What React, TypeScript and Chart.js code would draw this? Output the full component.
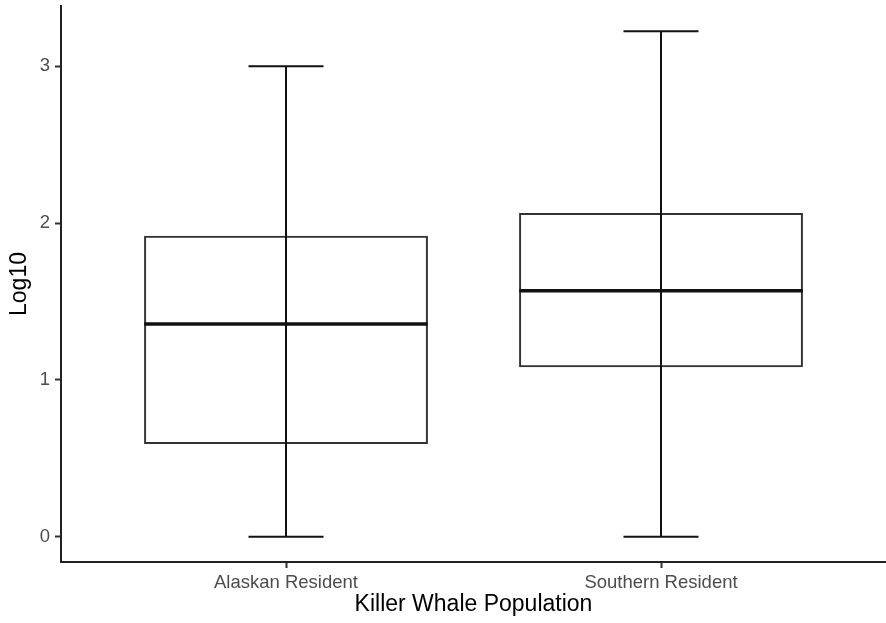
import React, { useEffect, useRef } from "react";
import { Chart, registerables } from "chart.js";

Chart.register(...registerables);

const categories = ["Alaskan Resident", "Southern Resident"];
const whiskerMin = [0, 0];
const q1 = [0.592, 1.081];
const median = [1.357, 1.569];
const q3 = [1.919, 2.064];
const whiskerMax = [3.0, 3.223];
const yTicks = [0, 1, 2, 3];
const xTitle = "Killer Whale Population";
const yTitle = "Log10";

const FONT = "'Liberation Sans', Arial, Helvetica, sans-serif";

const boxPlugin = {
  id: "boxWhiskers",
  afterDatasetsDraw(chart: any) {
    const ctx = chart.ctx;
    const xs = chart.scales.x;
    const ys = chart.scales.y;
    ctx.save();
    categories.forEach((_, i) => {
      const pos = i + 1;
      const cx = xs.getPixelForValue(pos);
      const capL = xs.getPixelForValue(pos - 0.1);
      const capR = xs.getPixelForValue(pos + 0.1);
      const boxL = xs.getPixelForValue(pos - 0.378);
      const boxR = xs.getPixelForValue(pos + 0.378);
      const yMin = ys.getPixelForValue(whiskerMin[i]);
      const yMax = ys.getPixelForValue(whiskerMax[i]);
      const yMed = ys.getPixelForValue(median[i]);
      ctx.strokeStyle = "#111";
      ctx.lineWidth = 2;
      ctx.beginPath();
      ctx.moveTo(cx, yMin);
      ctx.lineTo(cx, yMax);
      ctx.moveTo(capL, yMin);
      ctx.lineTo(capR, yMin);
      ctx.moveTo(capL, yMax);
      ctx.lineTo(capR, yMax);
      ctx.stroke();
      ctx.lineWidth = 3.5;
      ctx.strokeStyle = "#111";
      ctx.beginPath();
      ctx.moveTo(boxL, yMed);
      ctx.lineTo(boxR, yMed);
      ctx.stroke();
    });
    ctx.restore();
  },
};

export default function App() {
  const ref = useRef<HTMLCanvasElement>(null);
  useEffect(() => {
    document.body.style.margin = "0";
    const canvas = ref.current!;
    const chart = new Chart(canvas, {
      type: "bar",
      data: {
        datasets: [
          {
            data: categories.map((_, i) => ({ x: i + 1, y: [q1[i], q3[i]] })) as any,
            backgroundColor: "rgba(0,0,0,0)",
            borderColor: "#333",
            borderWidth: 2,
            borderSkipped: false,
            barPercentage: 0.757,
            categoryPercentage: 1,
          },
        ],
      },
      options: {
        animation: false,
        responsive: false,
        maintainAspectRatio: false,
        layout: { padding: { top: 6, right: 0, left: 0, bottom: 0 } },
        plugins: {
          legend: { display: false },
          tooltip: { enabled: false },
        },
        scales: {
          x: {
            type: "linear",
            min: 0.4,
            max: 2.6,
            offset: false,
            afterBuildTicks: (s: any) => {
              s.ticks = categories.map((_, i) => ({ value: i + 1 }));
            },
            afterFit: (s: any) => {
              s.height = 61;
            },
            ticks: {
              callback: (v: any) => categories[Math.round(Number(v)) - 1] ?? "",
              color: "#4d4d4d",
              font: { family: FONT, size: 18.5 },
              padding: 4,
              maxRotation: 0,
              autoSkip: false,
            },
            grid: {
              offset: false,
              drawOnChartArea: false,
              drawTicks: true,
              tickLength: 6,
              tickWidth: 2,
              tickColor: "#333",
            },
            border: { display: true, color: "#222", width: 2 },
            title: {
              display: true,
              text: xTitle,
              color: "#000",
              font: { family: FONT, size: 23 },
              padding: { top: 0, bottom: 5 },
            },
          },
          y: {
            type: "linear",
            min: -0.161,
            max: 3.384,
            afterBuildTicks: (s: any) => {
              s.ticks = yTicks.map((v) => ({ value: v }));
            },
            afterFit: (s: any) => {
              s.width = 61;
              s.paddingTop = 0;
              s.paddingBottom = 0;
            },
            ticks: {
              callback: (v: any) => String(v),
              color: "#4d4d4d",
              font: { family: FONT, size: 18.5 },
              padding: 5,
            },
            grid: {
              drawOnChartArea: false,
              drawTicks: true,
              tickLength: 6,
              tickWidth: 2,
              tickColor: "#333",
            },
            border: { display: true, color: "#222", width: 2 },
            title: {
              display: true,
              text: yTitle,
              color: "#000",
              font: { family: FONT, size: 23 },
              padding: { top: 6, bottom: 0 },
            },
          },
        },
      },
      plugins: [boxPlugin],
    });
    return () => chart.destroy();
  }, []);
  return (
    <div style={{ width: 886, height: 623, background: "#fff" }}>
      <canvas ref={ref} width={886} height={623} style={{ display: "block" }} />
    </div>
  );
}
